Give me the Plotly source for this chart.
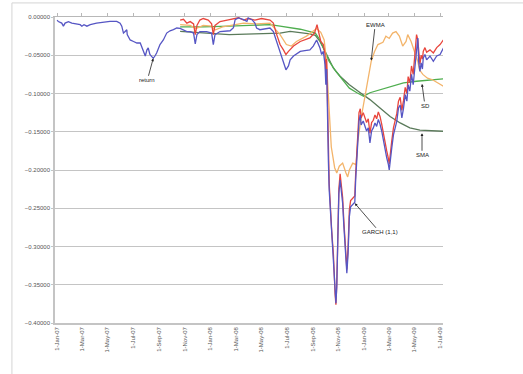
import plotly.graph_objects as go

# ---- series data -------------------------------------------------------
ret_dates = [
    "2007-01-01", "2007-01-04", "2007-01-12", "2007-01-16", "2007-01-20", "2007-01-28",
    "2007-02-05", "2007-02-17", "2007-02-25", "2007-03-01", "2007-03-06", "2007-03-13",
    "2007-03-21", "2007-04-05", "2007-04-21", "2007-05-07", "2007-05-23", "2007-05-31",
    "2007-06-04", "2007-06-08", "2007-06-12", "2007-06-16", "2007-06-17", "2007-06-24",
    "2007-07-02", "2007-07-10", "2007-07-18", "2007-07-25", "2007-07-30", "2007-08-03",
    "2007-08-06", "2007-08-10", "2007-08-14", "2007-08-18", "2007-08-22", "2007-08-26",
    "2007-09-03", "2007-09-11", "2007-09-19", "2007-09-27", "2007-10-05", "2007-10-13",
    "2007-10-21", "2007-10-29", "2007-11-06", "2007-11-14", "2007-11-22", "2007-11-26",
    "2007-11-30", "2007-12-07", "2007-12-23", "2008-01-04", "2008-01-08", "2008-01-12",
    "2008-01-24", "2008-02-17", "2008-02-25", "2008-02-29", "2008-03-08", "2008-03-20",
    "2008-03-28", "2008-03-31", "2008-04-09", "2008-04-16", "2008-04-20", "2008-04-28",
    "2008-05-14", "2008-05-22", "2008-05-30", "2008-06-07", "2008-06-15", "2008-06-23",
    "2008-06-29", "2008-07-05", "2008-07-09", "2008-07-17", "2008-08-02", "2008-08-13",
    "2008-08-25", "2008-09-02", "2008-09-10", "2008-09-13", "2008-09-18", "2008-09-22",
    "2008-09-26", "2008-09-30", "2008-10-02", "2008-10-04", "2008-10-05", "2008-10-08",
    "2008-10-10", "2008-10-16", "2008-10-20", "2008-10-24", "2008-10-26", "2008-10-28",
    "2008-10-30", "2008-11-02", "2008-11-05", "2008-11-09", "2008-11-11", "2008-11-14",
    "2008-11-17", "2008-11-21", "2008-11-24", "2008-11-27", "2008-11-30", "2008-12-06",
    "2008-12-10", "2008-12-12", "2008-12-14", "2008-12-16", "2008-12-18", "2008-12-20",
    "2008-12-23", "2008-12-25", "2008-12-30", "2009-01-07", "2009-01-11", "2009-01-15",
    "2009-01-19", "2009-01-23", "2009-01-27", "2009-01-31", "2009-02-04", "2009-02-08",
    "2009-02-12", "2009-02-16", "2009-02-20", "2009-02-24", "2009-02-28", "2009-03-02",
    "2009-03-08", "2009-03-12", "2009-03-20", "2009-03-24", "2009-03-28", "2009-04-01",
    "2009-04-05", "2009-04-09", "2009-04-13", "2009-04-16", "2009-04-20", "2009-04-24",
    "2009-04-28", "2009-05-02", "2009-05-06", "2009-05-09", "2009-05-11", "2009-05-14",
    "2009-05-17", "2009-05-20", "2009-05-22", "2009-05-26", "2009-05-30", "2009-06-07",
    "2009-06-15", "2009-06-23", "2009-07-01", "2009-07-09",
]
ret_values = [
    -0.004, -0.006, -0.008, -0.012, -0.008, -0.006,
    -0.008, -0.009, -0.010, -0.012, -0.010, -0.012,
    -0.010, -0.008, -0.0066, -0.0057, -0.0057, -0.008,
    -0.012, -0.021, -0.019, -0.0166, -0.023, -0.030,
    -0.032, -0.034, -0.034, -0.045, -0.051, -0.043,
    -0.0405, -0.049, -0.051, -0.054, -0.051, -0.047,
    -0.036, -0.030, -0.021, -0.018, -0.0166, -0.0144,
    -0.015, -0.017, -0.019, -0.019, -0.021, -0.035,
    -0.023, -0.019, -0.019, -0.021, -0.036, -0.023,
    -0.019, -0.018, -0.014, -0.0035, -0.0013, -0.0035,
    -0.0057, -0.0013, -0.0035, -0.008, -0.0144, -0.0166,
    -0.015, -0.0144, -0.019, -0.032, -0.045, -0.058,
    -0.069, -0.064, -0.056, -0.051, -0.045, -0.044,
    -0.043, -0.038, -0.030, -0.034, -0.0405, -0.049,
    -0.045, -0.062, -0.0885, -0.068, -0.115, -0.187,
    -0.226, -0.287, -0.318, -0.366, -0.374, -0.353,
    -0.296, -0.2305, -0.213, -0.2305, -0.2435, -0.274,
    -0.3045, -0.335, -0.309, -0.261, -0.248, -0.2435,
    -0.242, -0.213, -0.196, -0.180, -0.1625, -0.136,
    -0.128, -0.141, -0.136, -0.149, -0.145, -0.1645,
    -0.149, -0.145, -0.1385, -0.143, -0.134, -0.140,
    -0.149, -0.162, -0.171, -0.184, -0.193, -0.200,
    -0.171, -0.154, -0.136, -0.119, -0.115, -0.132,
    -0.119, -0.1015, -0.110, -0.0885, -0.097, -0.075,
    -0.0885, -0.062, -0.0405, -0.0274, -0.058, -0.071,
    -0.060, -0.068, -0.0536, -0.049, -0.056, -0.051,
    -0.058, -0.051, -0.049, -0.0405,
]

garch_dates = [
    "2007-10-21", "2007-10-29", "2007-11-06", "2007-11-14", "2007-11-22", "2007-11-26",
    "2007-11-30", "2007-12-07", "2007-12-15", "2007-12-27", "2008-01-04", "2008-01-08",
    "2008-01-12", "2008-01-24", "2008-02-10", "2008-02-25", "2008-03-08", "2008-03-20",
    "2008-03-31", "2008-04-16", "2008-05-02", "2008-05-22", "2008-05-30", "2008-06-07",
    "2008-06-15", "2008-06-23", "2008-06-29", "2008-07-05", "2008-07-17", "2008-08-02",
    "2008-08-13", "2008-08-25", "2008-09-05", "2008-09-11", "2008-09-15", "2008-09-20",
    "2008-09-26", "2008-09-30", "2008-10-02", "2008-10-04", "2008-10-06", "2008-10-08",
    "2008-10-10", "2008-10-16", "2008-10-20", "2008-10-24", "2008-10-26", "2008-10-28",
    "2008-10-30", "2008-11-02", "2008-11-05", "2008-11-09", "2008-11-11", "2008-11-14",
    "2008-11-17", "2008-11-21", "2008-11-24", "2008-11-27", "2008-11-30", "2008-12-06",
    "2008-12-10", "2008-12-12", "2008-12-14", "2008-12-16", "2008-12-18", "2008-12-20",
    "2008-12-23", "2008-12-25", "2008-12-30", "2009-01-07", "2009-01-11", "2009-01-15",
    "2009-01-19", "2009-01-23", "2009-01-27", "2009-01-31", "2009-02-04", "2009-02-08",
    "2009-02-12", "2009-02-16", "2009-02-20", "2009-02-24", "2009-02-28", "2009-03-02",
    "2009-03-08", "2009-03-12", "2009-03-20", "2009-03-24", "2009-03-28", "2009-04-01",
    "2009-04-05", "2009-04-09", "2009-04-13", "2009-04-16", "2009-04-20", "2009-04-24",
    "2009-04-28", "2009-05-02", "2009-05-06", "2009-05-09", "2009-05-11", "2009-05-14",
    "2009-05-17", "2009-05-20", "2009-05-22", "2009-05-26", "2009-05-30", "2009-06-07",
    "2009-06-15", "2009-06-23", "2009-07-01", "2009-07-09",
]
garch_values = [
    -0.004, -0.003, -0.008, -0.006, -0.009, -0.023,
    -0.011, -0.004, -0.002, -0.004, -0.009, -0.023,
    -0.011, -0.006, -0.004, -0.002, -0.001, -0.004,
    -0.002, -0.004, -0.002, -0.004, -0.008, -0.023,
    -0.036, -0.043, -0.049, -0.045, -0.038, -0.032,
    -0.030, -0.0274, -0.021, -0.010, -0.020, -0.032,
    -0.036, -0.048, -0.075, -0.055, -0.110, -0.180,
    -0.218, -0.280, -0.310, -0.362, -0.376, -0.350,
    -0.290, -0.225, -0.205, -0.222, -0.236, -0.268,
    -0.298, -0.330, -0.300, -0.252, -0.240, -0.236,
    -0.234, -0.205, -0.188, -0.170, -0.150, -0.125,
    -0.120, -0.132, -0.125, -0.138, -0.133, -0.152,
    -0.138, -0.135, -0.128, -0.133, -0.124, -0.130,
    -0.140, -0.153, -0.162, -0.175, -0.185, -0.192,
    -0.162, -0.145, -0.126, -0.110, -0.105, -0.122,
    -0.109, -0.092, -0.100, -0.078, -0.086, -0.064,
    -0.075, -0.048, -0.023, -0.030, -0.050, -0.062,
    -0.050, -0.055, -0.045, -0.040, -0.046, -0.043,
    -0.047, -0.040, -0.036, -0.030,
]

ewma_dates = [
    "2007-10-21", "2007-11-14", "2007-11-28", "2007-12-15", "2008-01-04", "2008-01-12",
    "2008-01-30", "2008-02-25", "2008-03-20", "2008-04-20", "2008-05-22", "2008-06-15",
    "2008-06-30", "2008-07-12", "2008-07-24", "2008-08-17", "2008-09-10", "2008-09-20",
    "2008-09-28", "2008-10-03", "2008-10-07", "2008-10-11", "2008-10-15", "2008-10-23",
    "2008-10-28", "2008-11-03", "2008-11-11", "2008-11-19", "2008-11-23", "2008-11-27",
    "2008-12-05", "2008-12-13", "2008-12-17", "2008-12-25", "2009-01-02", "2009-01-10",
    "2009-01-18", "2009-01-26", "2009-02-03", "2009-02-15", "2009-02-22", "2009-03-02",
    "2009-03-10", "2009-03-18", "2009-03-26", "2009-04-03", "2009-04-11", "2009-04-15",
    "2009-04-23", "2009-05-01", "2009-05-09", "2009-05-13", "2009-05-21", "2009-06-01",
    "2009-06-13", "2009-06-25", "2009-07-09",
]
ewma_values = [
    -0.010, -0.011, -0.015, -0.011, -0.012, -0.017,
    -0.013, -0.010, -0.008, -0.009, -0.008, -0.023,
    -0.036, -0.038, -0.032, -0.025, -0.015, -0.020,
    -0.030, -0.054, -0.097, -0.141, -0.170, -0.197,
    -0.204, -0.195, -0.191, -0.204, -0.209, -0.200,
    -0.191, -0.193, -0.1625, -0.132, -0.106, -0.084,
    -0.058, -0.045, -0.036, -0.033, -0.025, -0.028,
    -0.021, -0.019, -0.025, -0.038, -0.032, -0.023,
    -0.032, -0.045, -0.058, -0.069, -0.075, -0.080,
    -0.082, -0.086, -0.0906,
]

sd_dates = [
    "2007-10-21", "2007-12-15", "2008-02-15", "2008-04-15", "2008-05-22", "2008-06-15",
    "2008-07-09", "2008-08-02", "2008-08-25", "2008-09-07", "2008-09-18", "2008-09-26",
    "2008-10-10", "2008-10-26", "2008-11-11", "2008-11-27", "2008-12-15", "2008-12-31",
    "2009-01-15", "2009-02-08", "2009-03-04", "2009-04-05", "2009-05-06", "2009-06-07",
    "2009-07-09",
]
sd_values = [
    -0.013, -0.013, -0.012, -0.011, -0.010, -0.012,
    -0.014, -0.016, -0.019, -0.021, -0.030, -0.0405,
    -0.058, -0.071, -0.082, -0.093, -0.099, -0.1037,
    -0.099, -0.095, -0.0906, -0.086, -0.084, -0.082,
    -0.0807,
]

sma_dates = [
    "2007-10-21", "2007-12-15", "2008-02-15", "2008-04-15", "2008-06-15", "2008-07-09",
    "2008-08-02", "2008-08-25", "2008-09-07", "2008-09-18", "2008-10-04", "2008-10-20",
    "2008-11-05", "2008-11-27", "2008-12-23", "2009-01-15", "2009-02-08", "2009-03-04",
    "2009-03-28", "2009-04-20", "2009-05-14", "2009-06-07", "2009-07-09",
]
sma_values = [
    -0.0187, -0.021, -0.023, -0.022, -0.021, -0.0187,
    -0.020, -0.022, -0.024, -0.032, -0.049, -0.067,
    -0.0775, -0.0885, -0.099, -0.108, -0.119, -0.130,
    -0.1385, -0.145, -0.148, -0.1486, -0.1494,
]

tick_dates = [
    "2007-01-01", "2007-03-01", "2007-05-01", "2007-07-01", "2007-09-01", "2007-11-01",
    "2008-01-01", "2008-03-01", "2008-05-01", "2008-07-01", "2008-09-01", "2008-11-01",
    "2009-01-01", "2009-03-01", "2009-05-01", "2009-07-01",
]

# ---- figure ------------------------------------------------------------
fig = go.Figure()

def add_line(x, y, name, color, width=1.3):
    fig.add_trace(go.Scatter(x=x, y=y, mode="lines", name=name,
                             line=dict(color=color, width=width)))

add_line(sma_dates, sma_values, "SMA", "#5a7a5a")
add_line(sd_dates, sd_values, "SD", "#4fae4f")
add_line(ewma_dates, ewma_values, "EWMA", "#f3b46a")
add_line(garch_dates, garch_values, "GARCH (1,1)", "#e8453c")
add_line(ret_dates, ret_values, "return", "#5656c4")

# top axis line carrying small tick marks at zero
fig.add_trace(go.Scatter(x=[tick_dates[0]], y=[0], xaxis="x2", mode="markers",
                         marker=dict(opacity=0), showlegend=False, hoverinfo="skip"))

font_family = "Liberation Sans, Arial, sans-serif"
x_range = ["2006-12-27", "2009-07-08"]

def note(text, x, y, ax, ay):
    fig.add_annotation(x=x, y=y, ax=ax, ay=ay, text=text, showarrow=True,
                       arrowhead=2, arrowsize=0.7, arrowwidth=0.8, arrowcolor="#222222",
                       font=dict(size=6, color="#222222", family=font_family),
                       standoff=0)

note("return", "2007-08-18", -0.054, -6, 22)
note("EWMA", "2009-01-18", -0.057, 4, -36)
note("SD", "2009-05-19", -0.0875, 3, 22)
note("SMA", "2009-05-19", -0.152, 0, 22)
note("GARCH (1,1)", "2008-12-10", -0.2435, 25, 29)

fig.update_layout(
    width=523, height=374,
    margin=dict(l=55, r=80, t=17, b=51),
    paper_bgcolor="white", plot_bgcolor="white",
    showlegend=False,
    font=dict(family=font_family, size=6, color="#555555"),
    xaxis=dict(
        type="date", range=x_range,
        tickvals=tick_dates, tickformat="%-d-%b-%y", tickangle=-90,
        showgrid=False, showline=True, linecolor="#c4c4c4", linewidth=1.5,
        ticks="", tickfont=dict(size=6, color="#555555"), zeroline=False,
    ),
    xaxis2=dict(
        type="date", range=x_range, overlaying="x", side="top",
        tickvals=tick_dates, showticklabels=False, showgrid=False,
        showline=True, linecolor="#b8b8b8", linewidth=1,
        ticks="outside", ticklen=3, tickcolor="#b8b8b8",
    ),
    yaxis=dict(
        range=[-0.40, 0.0], dtick=0.05, tickformat=".5f",
        showgrid=True, gridcolor="#c4c4c4", gridwidth=1.4,
        showline=True, linecolor="#c4c4c4", linewidth=1.5,
        ticks="outside", ticklen=2, tickcolor="#c4c4c4",
        tickfont=dict(size=6, color="#555555"), zeroline=False,
    ),
    shapes=[dict(type="rect", xref="paper", yref="paper",
                 x0=-0.111, x1=1.5, y0=-0.3, y1=1.046,
                 line=dict(color="#d4d4d4", width=1), fillcolor="rgba(0,0,0,0)",
                 layer="below")],
)

fig.write_html("out.html")
